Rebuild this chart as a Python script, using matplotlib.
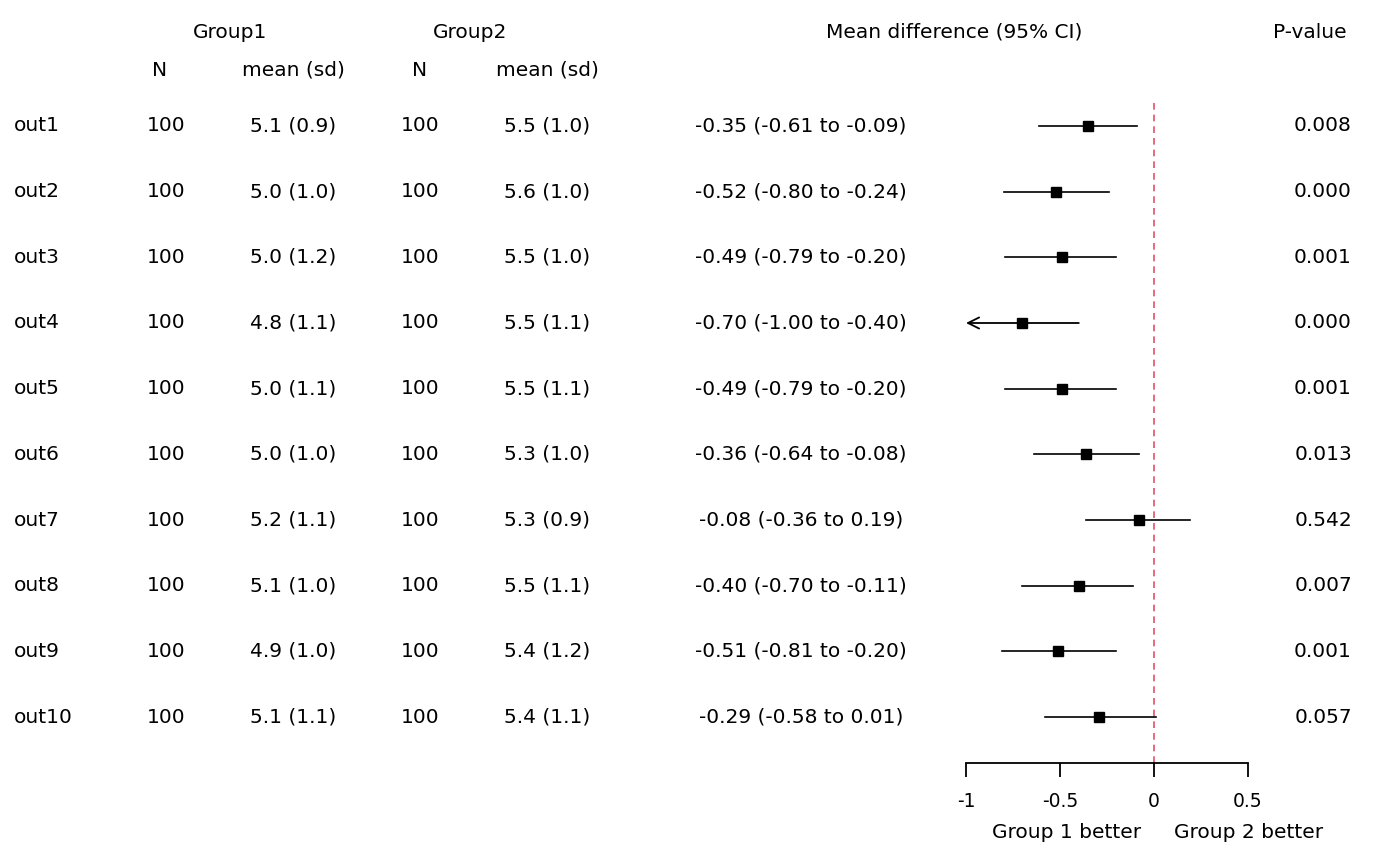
import numpy as np
import matplotlib
matplotlib.use('Agg')
import matplotlib.pyplot as plt
from matplotlib.transforms import blended_transform_factory

W, H = 1400, 866

outcomes = ['out1', 'out2', 'out3', 'out4', 'out5',
            'out6', 'out7', 'out8', 'out9', 'out10']
n1 = [100, 100, 100, 100, 100, 100, 100, 100, 100, 100]
n2 = [100, 100, 100, 100, 100, 100, 100, 100, 100, 100]
mean1 = [5.1, 5.0, 5.0, 4.8, 5.0, 5.0, 5.2, 5.1, 4.9, 5.1]
sd1 = [0.9, 1.0, 1.2, 1.1, 1.1, 1.0, 1.1, 1.0, 1.0, 1.1]
mean2 = [5.5, 5.6, 5.5, 5.5, 5.5, 5.3, 5.3, 5.5, 5.4, 5.4]
sd2 = [1.0, 1.0, 1.0, 1.1, 1.1, 1.0, 0.9, 1.1, 1.2, 1.1]
diff = [-0.35, -0.52, -0.49, -0.70, -0.49, -0.36, -0.08, -0.40, -0.51, -0.29]
lower = [-0.61, -0.80, -0.79, -1.00, -0.79, -0.64, -0.36, -0.70, -0.81, -0.58]
upper = [-0.09, -0.24, -0.20, -0.40, -0.20, -0.08, 0.19, -0.11, -0.20, 0.01]
pvals = ['0.008', '0.000', '0.001', '0.000', '0.001',
         '0.013', '0.542', '0.007', '0.001', '0.057']

xticks = [-1, -0.5, 0, 0.5]
xlim = (-1, 0.5)
ref_color = '#DF536B'
FS = 14.5


def fx(px):
    return px / W


def fy(py):
    return 1 - py / H


fig = plt.figure(figsize=(14, 8.66), dpi=100)

# forest panel: x from px 966 to 1248, y from px 98 to 763
ax = fig.add_axes([fx(966), fy(763), fx(1248) - fx(966), fy(98) - fy(763)])
rows = np.arange(len(outcomes))
row_gap = 65.7
ax.set_ylim(len(outcomes) - 1 + (763 - 717) / row_gap, -(126 - 98) / row_gap)
ax.set_xlim(*xlim)

ax.axvline(0, color=ref_color, ls=(0, (4, 3)), lw=1.2)

for i in rows:
    lo, hi = lower[i], upper[i]
    if lo <= xlim[0]:
        ax.annotate('', xy=(xlim[0], i), xytext=(hi, i),
                    arrowprops=dict(arrowstyle='->', lw=1.3, color='black',
                                    shrinkA=0, shrinkB=0, mutation_scale=20))
    else:
        ax.plot([lo, hi], [i, i], color='black', lw=1.2)
ax.plot(diff, rows, 's', color='black', ms=7, ls='none')

for s in ['top', 'left', 'right']:
    ax.spines[s].set_visible(False)
ax.spines['bottom'].set_linewidth(1.3)
ax.set_yticks([])
ax.set_xticks(xticks)
ax.set_xticklabels(['-1', '-0.5', '0', '0.5'], fontsize=13.5)
ax.tick_params(axis='x', direction='out', length=10, width=1.3, pad=11)
ax.patch.set_visible(False)

# table text
tr = blended_transform_factory(fig.transFigure, ax.transData)
for i in rows:
    ax.text(fx(14), i, outcomes[i], transform=tr, ha='left', va='center', fontsize=FS)
    ax.text(fx(166), i, str(n1[i]), transform=tr, ha='center', va='center', fontsize=FS)
    ax.text(fx(293), i, '%.1f (%.1f)' % (mean1[i], sd1[i]), transform=tr,
            ha='center', va='center', fontsize=FS)
    ax.text(fx(420), i, str(n2[i]), transform=tr, ha='center', va='center', fontsize=FS)
    ax.text(fx(547), i, '%.1f (%.1f)' % (mean2[i], sd2[i]), transform=tr,
            ha='center', va='center', fontsize=FS)
    ax.text(fx(801), i, '%.2f (%.2f to %.2f)' % (diff[i], lower[i], upper[i]),
            transform=tr, ha='center', va='center', fontsize=FS)
    ax.text(fx(1323), i, pvals[i], transform=tr, ha='center', va='center', fontsize=FS)

# headers
fig.text(fx(230), fy(32), 'Group1', ha='center', va='center', fontsize=FS)
fig.text(fx(470), fy(32), 'Group2', ha='center', va='center', fontsize=FS)
fig.text(fx(954), fy(32), 'Mean difference (95% CI)', ha='center', va='center', fontsize=FS)
fig.text(fx(1310), fy(32), 'P-value', ha='center', va='center', fontsize=FS)
fig.text(fx(160), fy(70), 'N', ha='center', va='center', fontsize=FS)
fig.text(fx(293), fy(70), 'mean (sd)', ha='center', va='center', fontsize=FS)
fig.text(fx(420), fy(70), 'N', ha='center', va='center', fontsize=FS)
fig.text(fx(547), fy(70), 'mean (sd)', ha='center', va='center', fontsize=FS)

fig.text(fx(1067), fy(833), 'Group 1 better', ha='center', va='center', fontsize=FS)
fig.text(fx(1249), fy(833), 'Group 2 better', ha='center', va='center', fontsize=FS)

fig.savefig('out.png', dpi=100)
